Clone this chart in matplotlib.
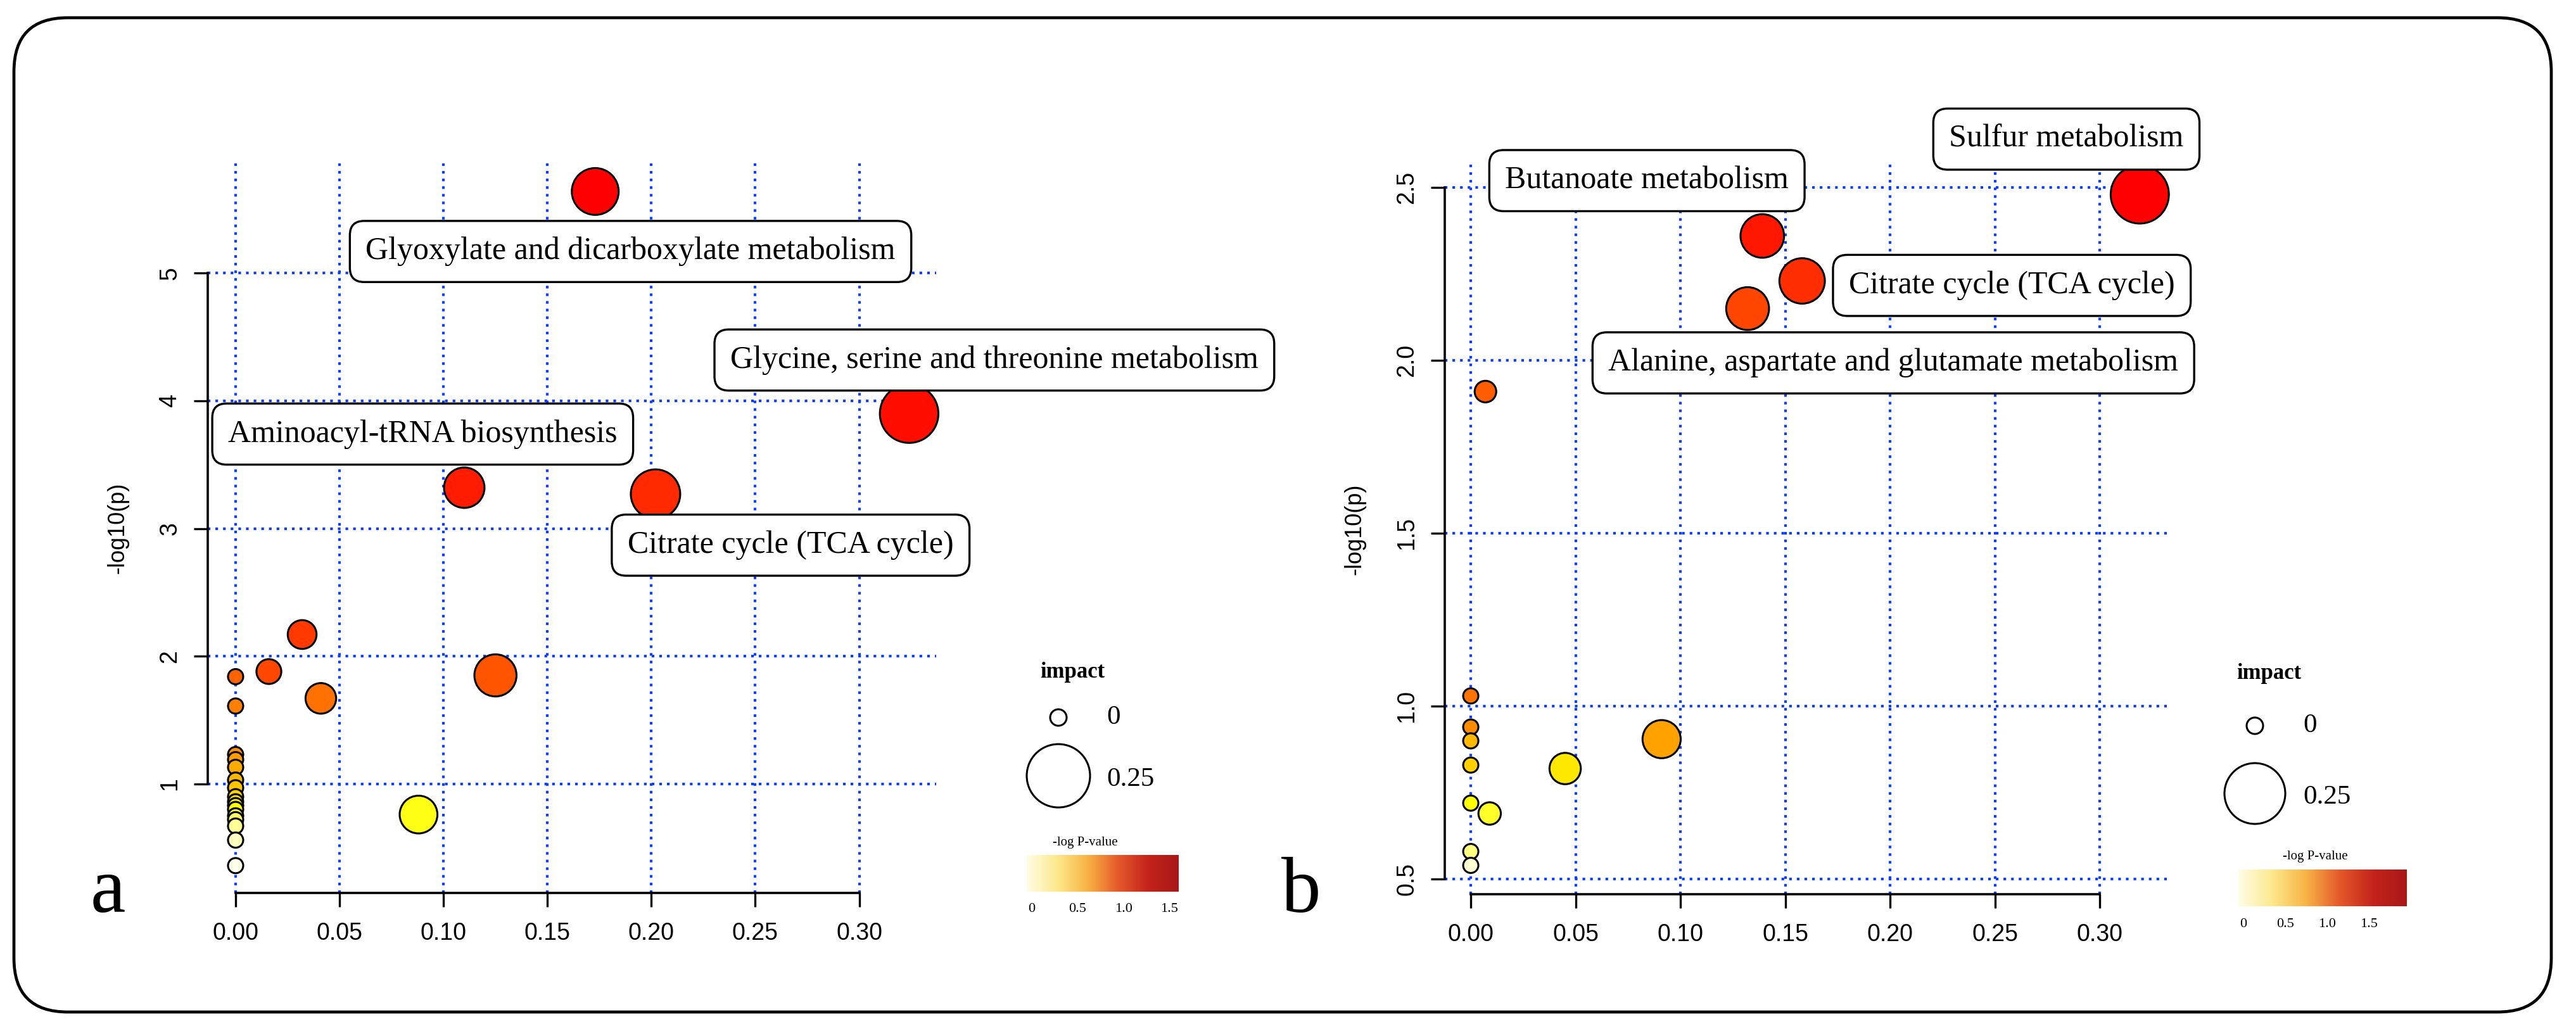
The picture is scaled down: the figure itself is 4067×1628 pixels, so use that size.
import colorsys
import numpy as np
import matplotlib.pyplot as plt
from matplotlib.patches import FancyBboxPatch, Circle
from matplotlib.colors import LinearSegmentedColormap

# ---- data: panel a ----
a_impact = [0.173, 0.324, 0.110, 0.202, 0.032, 0.016, 0.125, 0.041, 0.088,
            0, 0, 0, 0, 0, 0, 0, 0, 0, 0, 0, 0, 0, 0, 0, 0]
a_logp = [5.64, 3.90, 3.32, 3.27, 2.17, 1.88, 1.85, 1.67, 0.76,
          1.84, 1.61, 1.23, 1.19, 1.13, 1.03, 0.97, 0.90, 0.86, 0.83, 0.80,
          0.75, 0.72, 0.67, 0.56, 0.36]
a_names = ["Glyoxylate and dicarboxylate metabolism",
           "Glycine, serine and threonine metabolism",
           "Aminoacyl-tRNA biosynthesis",
           "Citrate cycle (TCA cycle)"]
a_yticks = [1, 2, 3, 4, 5]

# ---- data: panel b ----
b_impact = [0.319, 0.139, 0.158, 0.132, 0.007, 0, 0, 0.091, 0, 0, 0.045, 0, 0.009, 0, 0]
b_logp = [2.48, 2.36, 2.23, 2.15, 1.91, 1.03, 0.94, 0.905, 0.90, 0.83, 0.82,
          0.72, 0.69, 0.58, 0.54]
b_names = ["Sulfur metabolism",
           "Butanoate metabolism",
           "Citrate cycle (TCA cycle)",
           "Alanine, aspartate and glutamate metabolism"]
b_yticks = [0.5, 1.0, 1.5, 2.0, 2.5]

x_ticks = [0, 0.05, 0.10, 0.15, 0.20, 0.25, 0.30]
legend_impact = [0, 0.25]
cbar_ticks = [0, 0.5, 1.0, 1.5]

# ---- layout (pixels) ----
W, H, DPI = 4067, 1628, 100
a_box = (328, 258, 1478, 1410)      # left, top, right, bottom
b_box = (2281, 259, 3424, 1412)
a_lim = ((-0.0134, 0.337), (0.146, 5.86))
b_lim = ((-0.0124, 0.3328), (0.4566, 2.568))
a_label_pos = [(0.190, 5.17), (0.365, 4.32), (0.090, 3.74), (0.267, 2.87)]
b_label_pos = [(0.284, 2.64), (0.084, 2.52), (0.258, 2.217), (0.2015, 1.993)]

SERIF = "Liberation Serif"
SANS = "Liberation Sans"


def heat_colors(n):
    # R's heat.colors()
    j = n // 4
    i = n - j
    cols = [colorsys.hsv_to_rgb(h, 1, 1) for h in np.linspace(0, 1 / 6, i)]
    if j > 0:
        cols += [colorsys.hsv_to_rgb(1 / 6, s, 1)
                 for s in np.linspace(1 - 1 / (2 * j), 1 / (2 * j), j)]
    return cols


fig = plt.figure(figsize=(W / DPI, H / DPI), dpi=DPI)


def px_axes(l, t, r, b, **kw):
    return fig.add_axes([l / W, 1 - b / H, (r - l) / W, (b - t) / H], **kw)


def draw_panel(box, lims, yticks, yfmt, impact, logp, names, label_pos):
    ax = px_axes(*box, zorder=2)
    ax.set_facecolor("none")
    ax.set_xlim(lims[0])
    ax.set_ylim(lims[1])
    ax.set_xticks(x_ticks)
    ax.set_xticklabels([f"{v:.2f}" for v in x_ticks])
    ax.set_yticks(yticks)
    ax.set_yticklabels([yfmt.format(v) for v in yticks], rotation=90, va="center")
    ax.grid(True, color="#0d3dff", lw=3.0, linestyle=(0, (1.0, 1.9)), zorder=0)
    ax.set_axisbelow(True)
    for s in ["top", "right"]:
        ax.spines[s].set_visible(False)
    for s in ["bottom", "left"]:
        ax.spines[s].set_linewidth(2.6)
    ax.spines["bottom"].set_bounds(x_ticks[0], x_ticks[-1])
    ax.spines["left"].set_bounds(yticks[0], yticks[-1])
    ax.tick_params(length=16, width=2.4, labelsize=27, pad=14)
    ax.tick_params(axis="x", pad=17)
    for t in ax.get_xticklabels() + ax.get_yticklabels():
        t.set_family(SANS)
    ax.set_ylabel("-log10(p)", fontsize=26, family=SANS, va="center")
    ax.yaxis.set_label_coords(-142 / (box[2] - box[0]), 0.5)

    imp = np.array(impact)
    lp = np.array(logp)
    order = np.argsort(-lp, kind="stable")
    r_px = 12 + 60 * np.sqrt(imp[order])
    ax.scatter(imp[order], lp[order], s=(2 * r_px * 72 / DPI) ** 2,
               c=heat_colors(len(lp)), edgecolors="black", linewidths=2.2,
               zorder=3, clip_on=False)

    for name, (lx, ly) in zip(names, label_pos):
        ax.text(lx, ly, name, ha="center", va="center", fontsize=36, family=SERIF,
                zorder=5, clip_on=False,
                bbox=dict(boxstyle="round,pad=0.5,rounding_size=0.45",
                          fc="white", ec="black", lw=2.4))
    return ax


draw_panel(a_box, a_lim, a_yticks, "{:.0f}", a_impact, a_logp, a_names, a_label_pos)
draw_panel(b_box, b_lim, b_yticks, "{:.1f}", b_impact, b_logp, b_names, b_label_pos)

# ---- background overlay: frame, panel letters, legends ----
bg = fig.add_axes([0, 0, 1, 1], zorder=0)
bg.set_xlim(0, W)
bg.set_ylim(H, 0)
bg.axis("off")
bg.add_patch(FancyBboxPatch((22, 28), 4006, 1570,
                            boxstyle="round,pad=0,rounding_size=85",
                            fc="none", ec="black", lw=3.4))
bg.text(170, 1440, "a", fontsize=90, family=SERIF, ha="center", va="baseline")
bg.text(2054, 1440, "b", fontsize=90, family=SERIF, ha="center", va="baseline")

cbar_cmap = LinearSegmentedColormap.from_list(
    "logp", ["#fffde6", "#fde98c", "#f7b445", "#e55a2b", "#c4231b", "#a81818"])


def draw_legend(cx, top, r_small, r_big, dy_small, dy_big, dy_bar,
                bar_left, bar_w, bar_vmax, title_dx):
    bg.text(cx + 22, top, "impact", fontsize=25, family=SERIF, weight="bold",
            ha="center", va="center")
    for val, r, dy in zip(legend_impact, [r_small, r_big], [dy_small, dy_big]):
        bg.add_patch(Circle((cx, top + dy), r, fc="white", ec="black", lw=2.2))
        bg.text(cx + 76, top + dy + (0 if val == 0 else 6), f"{val:g}", fontsize=31,
                family=SERIF, ha="left", va="center")
    bg.text(cx + title_dx, top + dy_bar - 20, "-log P-value", fontsize=15,
            family=SERIF, ha="center", va="center")
    x0, x1, y0, y1 = cx + bar_left, cx + bar_left + bar_w, top + dy_bar, top + dy_bar + 58
    grad = np.linspace(0, 1, 256)[None, :]
    bg.imshow(grad, cmap=cbar_cmap, extent=(x0, x1, y1, y0), aspect="auto", zorder=1)
    for v in cbar_ticks:
        xv = x0 + 8 + v / bar_vmax * (bar_w - 8)
        bg.text(xv, y1 + 28, f"{v:g}" if v == 0 else f"{v:.1f}", fontsize=16,
                family=SERIF, ha="center", va="center")


draw_legend(1671, 1062, 13, 50, 71, 163, 288, -50, 240, 1.6, 42)
draw_legend(3560, 1063, 13, 48, 83, 190, 310, -26, 266, 1.95, 95)

fig.savefig("out.png", dpi=DPI, facecolor="white")
